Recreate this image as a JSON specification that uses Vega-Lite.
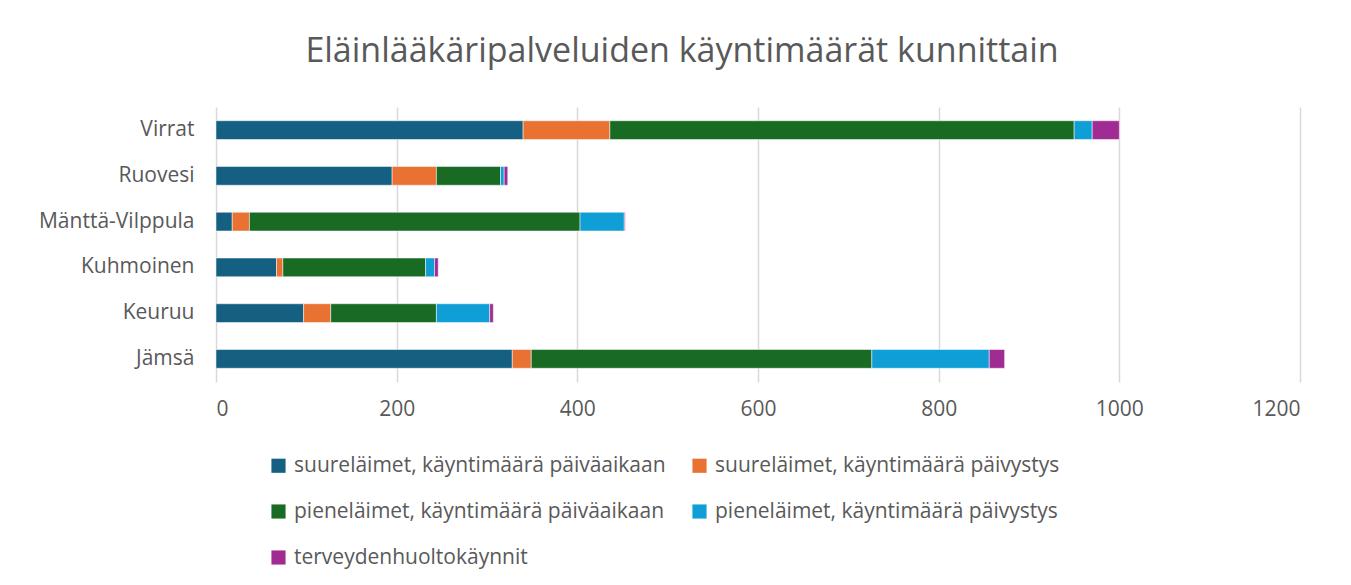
{
  "$schema": "https://vega.github.io/schema/vega-lite/v6.json",
  "autosize": {"type": "none"},
  "width": 1084,
  "height": 275,
  "padding": {"left": 216, "top": 107, "right": 51, "bottom": 203},
  "background": "white",
  "title": {
    "text": "Eläinlääkäripalveluiden käyntimäärät kunnittain",
    "anchor": "middle",
    "dx": -76,
    "offset": 38,
    "font": "Open Sans",
    "fontSize": 34,
    "fontWeight": "normal",
    "color": "#595959"
  },
  "data": {
    "values": [
      {"kunta": "Virrat", "sarja": "suureläimet, käyntimäärä päiväaikaan", "nro": 1, "maara": 340},
      {"kunta": "Virrat", "sarja": "suureläimet, käyntimäärä päivystys", "nro": 2, "maara": 96},
      {"kunta": "Virrat", "sarja": "pieneläimet, käyntimäärä päiväaikaan", "nro": 3, "maara": 514},
      {"kunta": "Virrat", "sarja": "pieneläimet, käyntimäärä päivystys", "nro": 4, "maara": 20},
      {"kunta": "Virrat", "sarja": "terveydenhuoltokäynnit", "nro": 5, "maara": 30},
      {"kunta": "Ruovesi ", "sarja": "suureläimet, käyntimäärä päiväaikaan", "nro": 1, "maara": 195},
      {"kunta": "Ruovesi ", "sarja": "suureläimet, käyntimäärä päivystys", "nro": 2, "maara": 49},
      {"kunta": "Ruovesi ", "sarja": "pieneläimet, käyntimäärä päiväaikaan", "nro": 3, "maara": 71},
      {"kunta": "Ruovesi ", "sarja": "pieneläimet, käyntimäärä päivystys", "nro": 4, "maara": 4},
      {"kunta": "Ruovesi ", "sarja": "terveydenhuoltokäynnit", "nro": 5, "maara": 4},
      {"kunta": "Mänttä-Vilppula", "sarja": "suureläimet, käyntimäärä päiväaikaan", "nro": 1, "maara": 18},
      {"kunta": "Mänttä-Vilppula", "sarja": "suureläimet, käyntimäärä päivystys", "nro": 2, "maara": 19},
      {"kunta": "Mänttä-Vilppula", "sarja": "pieneläimet, käyntimäärä päiväaikaan", "nro": 3, "maara": 366},
      {"kunta": "Mänttä-Vilppula", "sarja": "pieneläimet, käyntimäärä päivystys", "nro": 4, "maara": 49},
      {"kunta": "Mänttä-Vilppula", "sarja": "terveydenhuoltokäynnit", "nro": 5, "maara": 1},
      {"kunta": "Kuhmoinen", "sarja": "suureläimet, käyntimäärä päiväaikaan", "nro": 1, "maara": 67},
      {"kunta": "Kuhmoinen", "sarja": "suureläimet, käyntimäärä päivystys", "nro": 2, "maara": 7},
      {"kunta": "Kuhmoinen", "sarja": "pieneläimet, käyntimäärä päiväaikaan", "nro": 3, "maara": 158},
      {"kunta": "Kuhmoinen", "sarja": "pieneläimet, käyntimäärä päivystys", "nro": 4, "maara": 10},
      {"kunta": "Kuhmoinen", "sarja": "terveydenhuoltokäynnit", "nro": 5, "maara": 4},
      {"kunta": "Keuruu", "sarja": "suureläimet, käyntimäärä päiväaikaan", "nro": 1, "maara": 97},
      {"kunta": "Keuruu", "sarja": "suureläimet, käyntimäärä päivystys", "nro": 2, "maara": 30},
      {"kunta": "Keuruu", "sarja": "pieneläimet, käyntimäärä päiväaikaan", "nro": 3, "maara": 117},
      {"kunta": "Keuruu", "sarja": "pieneläimet, käyntimäärä päivystys", "nro": 4, "maara": 59},
      {"kunta": "Keuruu", "sarja": "terveydenhuoltokäynnit", "nro": 5, "maara": 4},
      {"kunta": "Jämsä", "sarja": "suureläimet, käyntimäärä päiväaikaan", "nro": 1, "maara": 328},
      {"kunta": "Jämsä", "sarja": "suureläimet, käyntimäärä päivystys", "nro": 2, "maara": 21},
      {"kunta": "Jämsä", "sarja": "pieneläimet, käyntimäärä päiväaikaan", "nro": 3, "maara": 377},
      {"kunta": "Jämsä", "sarja": "pieneläimet, käyntimäärä päivystys", "nro": 4, "maara": 130},
      {"kunta": "Jämsä", "sarja": "terveydenhuoltokäynnit", "nro": 5, "maara": 17}
    ]
  },
  "mark": {"type": "bar", "stroke": "white", "strokeWidth": 0.5},
  "encoding": {
    "y": {
      "field": "kunta",
      "type": "nominal",
      "sort": ["Virrat", "Ruovesi ", "Mänttä-Vilppula", "Kuhmoinen", "Keuruu", "Jämsä"],
      "scale": {"paddingInner": 0.59, "paddingOuter": 0.3},
      "axis": {
        "title": null,
        "domain": false,
        "ticks": false,
        "grid": false,
        "labelPadding": 22,
        "labelFont": "Open Sans",
        "labelFontSize": 21,
        "labelColor": "#595959",
        "labelExpr": "datum.label == 'Ruovesi ' ? 'Ruovesi\u00a0' : datum.label"
      }
    },
    "x": {
      "field": "maara",
      "type": "quantitative",
      "stack": "zero",
      "scale": {"domain": [0, 1200], "nice": false},
      "axis": {
        "title": null,
        "values": [0, 200, 400, 600, 800, 1000, 1200],
        "format": "d",
        "domain": false,
        "ticks": false,
        "grid": true,
        "gridColor": "#D9D9D9",
        "gridWidth": 1.5,
        "labelPadding": 16,
        "labelFont": "Open Sans",
        "labelFontSize": 21,
        "labelColor": "#595959"
      }
    },
    "color": {
      "field": "sarja",
      "type": "nominal",
      "scale": {
        "domain": [
          "suureläimet, käyntimäärä päiväaikaan",
          "suureläimet, käyntimäärä päivystys",
          "pieneläimet, käyntimäärä päiväaikaan",
          "pieneläimet, käyntimäärä päivystys",
          "terveydenhuoltokäynnit"
        ],
        "range": ["#156082", "#E97132", "#196B24", "#0F9ED5", "#A02B93"]
      },
      "legend": {
        "title": null,
        "orient": "none",
        "legendX": 52,
        "legendY": 348,
        "direction": "horizontal",
        "columns": 2,
        "symbolType": "square",
        "symbolSize": 200,
        "symbolStrokeWidth": 0,
        "labelFont": "Open Sans",
        "labelFontSize": 21,
        "labelColor": "#595959",
        "labelOffset": 5,
        "labelLimit": 600,
        "rowPadding": 24,
        "columnPadding": 23
      }
    },
    "order": {"field": "nro", "type": "quantitative", "sort": "ascending"}
  },
  "config": {"view": {"stroke": null}}
}
